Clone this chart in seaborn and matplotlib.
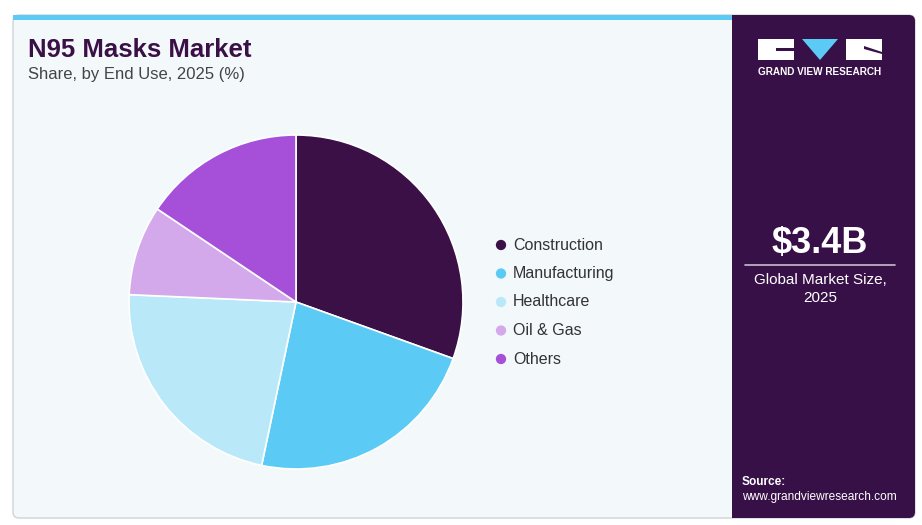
import seaborn as sns
from matplotlib import pyplot as plt
from matplotlib.patches import FancyBboxPatch, Rectangle, Polygon
from matplotlib.lines import Line2D

segments = ['Construction', 'Manufacturing', 'Healthcare', 'Oil & Gas', 'Others']
shares = [30.5, 22.8, 22.4, 8.7, 15.6]
colors = ['#3a1046', '#5bcbf5', '#b9e9f9', '#d3a9ec', '#a64fd8']

title = 'N95 Masks Market'
subtitle = 'Share, by End Use, 2025 (%)'
market_size = '$3.4B'
market_label = 'Global Market Size,\n2025'

sns.set_theme(style='white')
plt.rcParams['font.family'] = ['Liberation Sans', 'DejaVu Sans']

W, H = 922, 525
fig = plt.figure(figsize=(W / 100, H / 100), dpi=100)
fig.patch.set_facecolor('white')

# background canvas in pixel coords
bg = fig.add_axes([0, 0, 1, 1])
bg.set_xlim(0, W)
bg.set_ylim(H, 0)
bg.axis('off')

card = FancyBboxPatch((13, 15), 902, 503, boxstyle='round,pad=0,rounding_size=6',
                      facecolor='#f3f8fb', edgecolor='#d0d4d8', linewidth=1)
bg.add_patch(card)
bg.add_patch(Rectangle((13, 15), 719, 5, facecolor='#5bcbf5', edgecolor='none'))
bg.add_patch(FancyBboxPatch((732, 15), 183, 503, boxstyle='round,pad=0,rounding_size=6',
                            facecolor='#371047', edgecolor='none'))
bg.add_patch(Rectangle((732, 15), 10, 503, facecolor='#371047', edgecolor='none'))

# logo
bg.add_patch(Rectangle((758, 39), 36, 21, facecolor='white', edgecolor='none'))
bg.add_patch(Rectangle((776, 48), 18, 3, facecolor='#371047', edgecolor='none'))
bg.add_patch(Polygon([(802, 39), (838, 39), (820, 60)], closed=True, facecolor='#5bcbf5', edgecolor='none'))
bg.add_patch(Rectangle((846, 39), 36, 21, facecolor='white', edgecolor='none'))
bg.add_patch(Polygon([(864, 46), (882, 52), (882, 54), (864, 49)], closed=True, facecolor='#371047', edgecolor='none'))
bg.text(820, 72, 'GRAND VIEW RESEARCH', color='white', fontsize=7.2, fontweight='bold',
        ha='center', va='center')

# right panel texts
bg.text(820, 244, market_size, color='white', fontsize=26, fontweight='bold', ha='center', va='center')
bg.add_line(Line2D([745, 895], [265, 265], color='#c9bcd0', linewidth=1.2))
bg.text(820, 289, market_label, color='white', fontsize=11, ha='center', va='center',
        linespacing=1.35)
bg.text(742, 482, 'Source:', color='white', fontsize=8.6, fontweight='bold', ha='left', va='center')
bg.text(742, 497, 'www.grandviewresearch.com', color='white', fontsize=8.6, ha='left', va='center')

# titles
bg.text(28, 50, title, color='#3a1046', fontsize=18.5, fontweight='bold', ha='left', va='center')
bg.text(28, 75, subtitle, color='#444444', fontsize=12, ha='left', va='center')

# pie
cx, cy, r = 296, 302, 167
ax = fig.add_axes([(cx - r) / W, (H - cy - r) / H, 2 * r / W, 2 * r / H])
ax.pie(shares, colors=colors, startangle=90, counterclock=False, radius=1,
       wedgeprops={'edgecolor': 'white', 'linewidth': 1.2})
ax.set_xlim(-1, 1)
ax.set_ylim(-1, 1)
ax.set_aspect('auto')
ax.axis('off')

# legend
for i, (seg, col) in enumerate(zip(segments, colors)):
    y = 245 + i * 28.5
    bg.scatter([501], [y], s=55, color=col, edgecolor='none', zorder=3)
    bg.text(513, y, seg, color='#333333', fontsize=11.5, ha='left', va='center')

fig.savefig('out.png', dpi=100, facecolor='white')
